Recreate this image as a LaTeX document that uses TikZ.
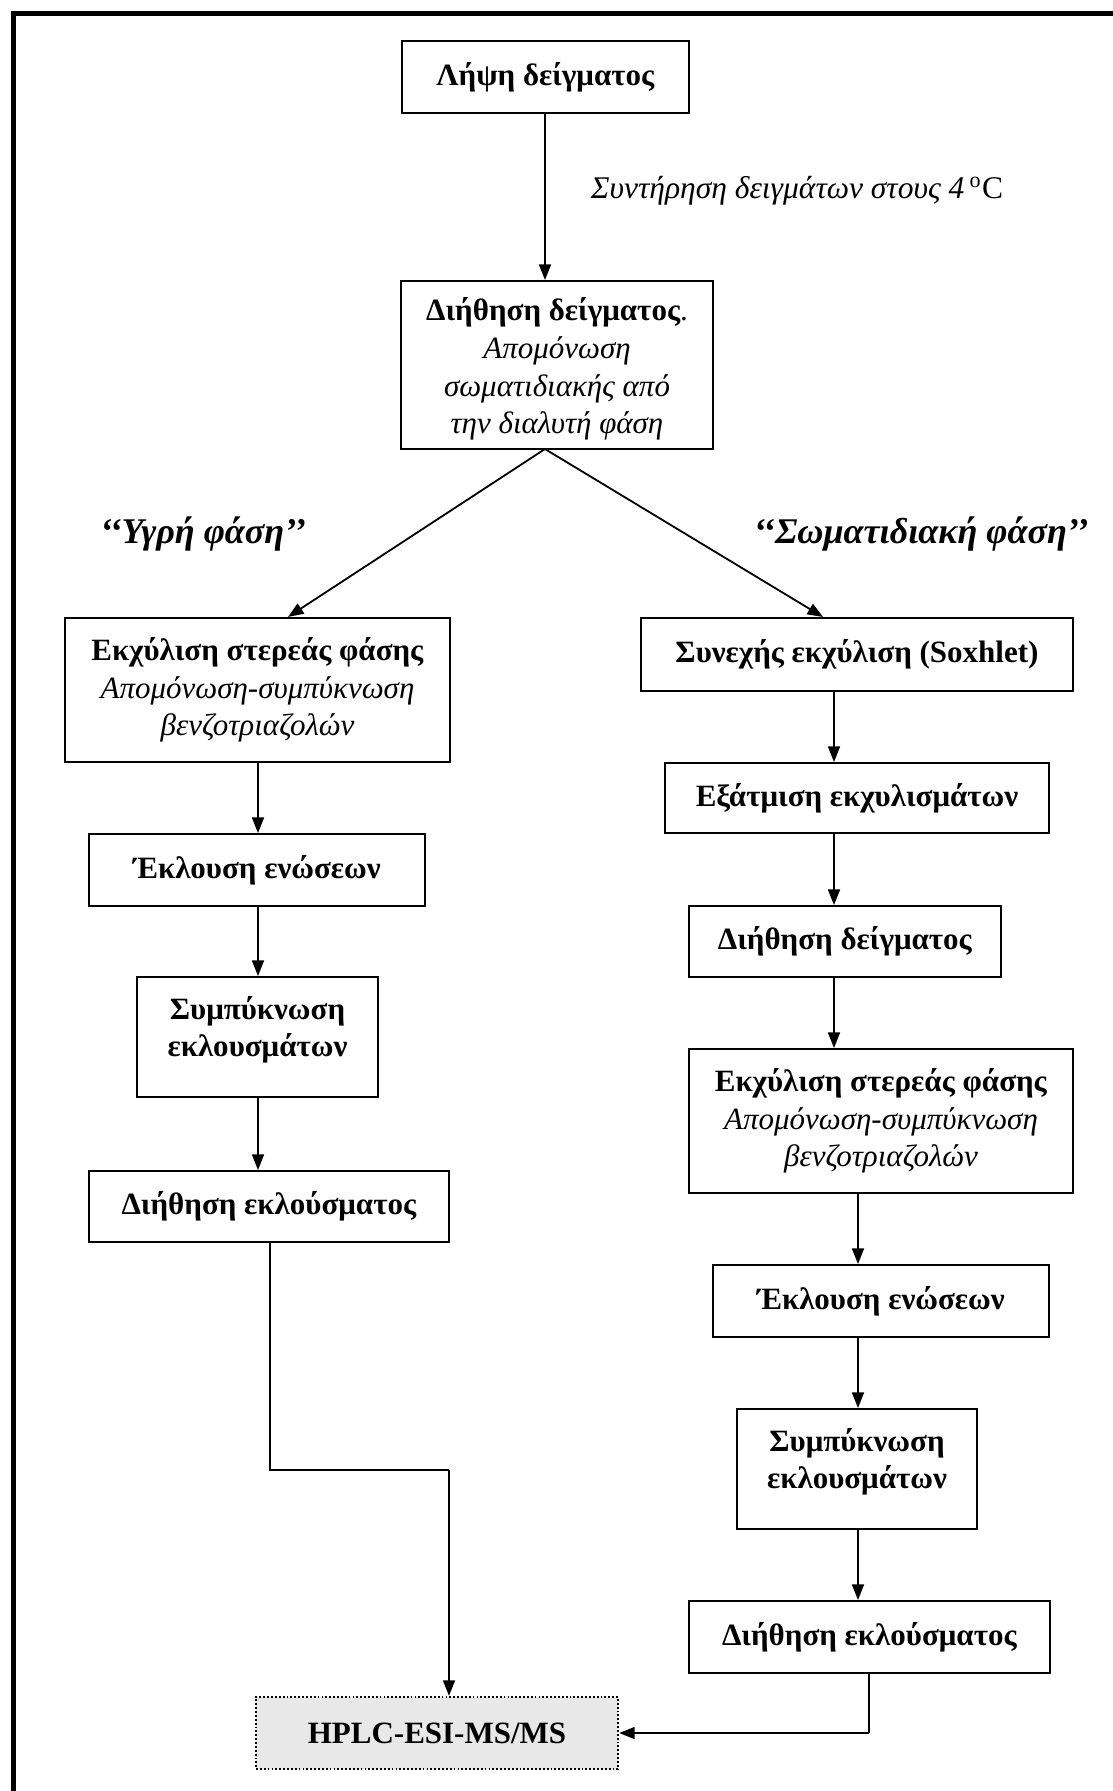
\documentclass[tikz,border=0pt]{standalone}
\usepackage{fontspec}
\setmainfont{Liberation Serif}
\usetikzlibrary{arrows.meta}
\def\pxu{0.387pt}
\definecolor{hplcfill}{HTML}{E8E8E8}
\begin{document}
\begin{tikzpicture}[x=0.387pt,y=-0.387pt,
  box/.style={draw, line width=0.8pt, inner sep=0pt, align=center,
    font=\fontsize{12}{14.6}\selectfont},
  conn/.style={line width=0.7pt, -{Triangle[length=6pt,width=4.6pt]}},
  plainline/.style={line width=0.7pt},
  lbl/.style={inner sep=0pt, font=\fontsize{12.2}{14.6}\selectfont},
  phase/.style={inner sep=0pt, font=\fontsize{14}{16}\selectfont\bfseries\itshape},
  frameline/.style={line width=5*\pxu, line join=miter}]
\useasboundingbox (0,0) rectangle (1113,1791);
% outer frame
\draw[frameline] (13.5,1791) -- (13.5,13.5) -- (1113,13.5);

% top
\node[box, minimum width=287*\pxu, minimum height=72*\pxu] (b1) at (545.5,77) {\textbf{Λήψη δείγματος}};
\node[box, minimum width=312*\pxu, minimum height=168*\pxu] (b2) at (557,365)
  {\mbox{}\\[-2.5pt]\textbf{Διήθηση δείγματος}.\\\textit{Απομόνωση}\\\textit{σωματιδιακής από}\\\textit{την διαλυτή φάση}};
\node[lbl] (store) at (797,191) {\textit{Συντήρηση δειγμάτων στους 4}\,\textsuperscript{o}C};

% left column
\node[box, minimum width=385*\pxu, minimum height=144*\pxu] (l1) at (257.5,690)
  {\textbf{Εκχύλιση στερεάς φάσης}\\\textit{Απομόνωση-συμπύκνωση}\\\textit{βενζοτριαζολών}};
\node[box, minimum width=336*\pxu, minimum height=72*\pxu] (l2) at (257,870) {\textbf{Έκλουση ενώσεων}};
\node[box, minimum width=241*\pxu, minimum height=120*\pxu] (l3) at (257.5,1037)
  {\textbf{Συμπύκνωση}\\\textbf{εκλουσμάτων}\\[-6.5pt]\mbox{}};
\node[box, minimum width=360*\pxu, minimum height=71*\pxu] (l4) at (269,1206.5) {\textbf{Διήθηση εκλούσματος}};

% right column
\node[box, minimum width=432*\pxu, minimum height=73*\pxu] (r1) at (857,654.5) {\textbf{Συνεχής εκχύλιση (Soxhlet)}};
\node[box, minimum width=384*\pxu, minimum height=70*\pxu] (r2) at (857,798) {\textbf{Εξάτμιση εκχυλισμάτων}};
\node[box, minimum width=312*\pxu, minimum height=71*\pxu] (r3) at (845,941.5) {\textbf{Διήθηση δείγματος}};
\node[box, minimum width=384*\pxu, minimum height=144*\pxu] (r4) at (881,1121)
  {\textbf{Εκχύλιση στερεάς φάσης}\\\textit{Απομόνωση-συμπύκνωση}\\\textit{βενζοτριαζολών}};
\node[box, minimum width=336*\pxu, minimum height=72*\pxu] (r5) at (881,1301) {\textbf{Έκλουση ενώσεων}};
\node[box, minimum width=240*\pxu, minimum height=120*\pxu] (r6) at (857,1469)
  {\textbf{Συμπύκνωση}\\\textbf{εκλουσμάτων}\\[-6.5pt]\mbox{}};
\node[box, minimum width=361*\pxu, minimum height=72*\pxu] (r7) at (869.5,1637) {\textbf{Διήθηση εκλούσματος}};

% final
\node[box, fill=hplcfill, line width=0.9pt, dash pattern=on 0.7pt off 0.8pt, minimum width=362*\pxu, minimum height=72*\pxu] (h) at (437,1733)
  {\textbf{HPLC-ESI-MS/MS}};

% phase labels
\node[phase] (wet) at (203,534) {‘‘Υγρή φάση’’};
\node[phase] (part) at (921,534) {‘‘Σωματιδιακή φάση’’};

% connector helper coordinates
\coordinate (split) at (545,449);
\coordinate (lbend1) at (270,1470);
\coordinate (lbend2) at (449,1470);
\coordinate (rbend) at (869,1733);

\draw[conn] (545,113) -- (b2.north -| split);
\draw[conn] (split) -- (l1.north -| 288,0);
\draw[conn] (split) -- (r1.north -| 823,0);

\draw[conn] (l1.south -| 258,0) -- (l2.north -| 258,0);
\draw[conn] (l2.south -| 258,0) -- (l3.north -| 258,0);
\draw[conn] (l3.south -| 258,0) -- (l4.north -| 258,0);
\draw[plainline] (l4.south -| lbend1) -- (lbend1) -- (lbend2);
\draw[conn] (lbend2) -- (h.north -| lbend2);

\draw[conn] (r1.south -| 834,0) -- (r2.north -| 834,0);
\draw[conn] (r2.south -| 834,0) -- (r3.north -| 834,0);
\draw[conn] (r3.south -| 834,0) -- (r4.north -| 834,0);
\draw[conn] (r4.south -| 858,0) -- (r5.north -| 858,0);
\draw[conn] (r5.south -| 858,0) -- (r6.north -| 858,0);
\draw[conn] (r6.south -| 858,0) -- (r7.north -| 858,0);
\draw[plainline] (r7.south -| rbend) -- (rbend);
\draw[conn] (rbend) -- (h.east);
\end{tikzpicture}
\end{document}
